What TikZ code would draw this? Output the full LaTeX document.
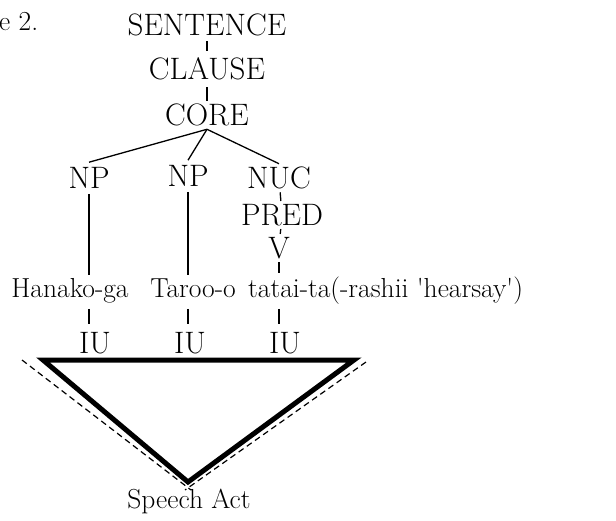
\documentclass[tikz,border=0pt]{standalone}
\usepackage{fontspec}
\setmainfont{Latin Modern Roman}[Ligatures=TeXOff]
\usepackage{tikz}
\begin{document}
\begin{tikzpicture}[
            x=1pt, y=-1pt,
            cat node/.style={inner xsep=2pt, inner ysep=3pt, font=\fontsize{31}{33}\selectfont},
            word node/.style={inner xsep=2pt, inner ysep=3pt, anchor=base, font=\fontsize{27.5}{30}\selectfont},
            branch/.style={line width=1.3pt},
            frame line/.style={line width=5pt, line join=miter},
            guide line/.style={line width=1.2pt, dash pattern=on 6pt off 4pt},
            ]
            \useasboundingbox (0,0) rectangle (616,520);

            % heading (cut off at the left edge)
            \node[word node, anchor=base west, inner sep=0pt] (ex) at (-1,30) {e 2.};

            % layered structure of the clause
            \node[cat node, inner ysep=5pt] (S) at (207,25) {SENTENCE};
            \node[cat node, inner ysep=7pt] (CL) at (207,69) {CLAUSE};
            \node[cat node] (CO) at (207,115) {CORE};
            \node[cat node, inner ysep=5pt] (NP1) at (89,178) {NP};
            \node[cat node, inner ysep=5pt] (NP2) at (188,176) {NP};
            \node[cat node] (NUC) at (279,178) {NUC};
            \node[cat node] (PRED) at (282,215) {PRED};
            \node[cat node] (V) at (279,248) {V};

            % words
            \node[word node] (W1) at (70,297) {Hanako-ga};
            \node[word node] (W2) at (193,297) {Taroo-o};
            \node[word node, anchor=base west] (W3) at (246,297) {tatai-ta(-rashii 'hearsay')};

            % intonation units
            \node[cat node, inner ysep=8pt] (IU1) at (95,343) {IU};
            \node[cat node, inner ysep=8pt] (IU2) at (190,343) {IU};
            \node[cat node, inner ysep=8pt] (IU3) at (285,343) {IU};

            \node[word node] (SA) at (189,508) {Speech Act};

            \coordinate (tl) at (43,360);
            \coordinate (tr) at (354,360);
            \coordinate (apex) at (188,482);
            \coordinate (gl1) at (22,360);
            \coordinate (gl2) at (191,490);
            \coordinate (gr1) at (366,362);
            \coordinate (gr2) at (185,490);

            \draw[branch] (S) -- (CL);
            \draw[branch] (CL) -- (CO);
            \draw[branch] (CO.south) -- (NP1.north);
            \draw[branch] (CO.south) -- (NP2.north);
            \draw[branch] (CO.south) -- (NUC.north);
            \draw[branch] (NUC) -- (PRED);
            \draw[branch] (PRED) -- (V);

            \draw[branch] (NP1) -- (NP1 |- W1.north);
            \draw[branch] (NP2) -- (NP2 |- W1.north);
            \draw[branch] (V) -- (V |- W3.north);

            \draw[branch] ([yshift=-3pt]NP1 |- W1.south) -- (NP1 |- IU1.north);
            \draw[branch] ([yshift=-3pt]NP2 |- W1.south) -- (NP2 |- IU2.north);
            \draw[branch] ([yshift=-3pt]NUC |- W1.south) -- (NUC |- IU3.north);

            \draw[frame line] (tl) -- (tr) -- (apex) -- cycle;
            \draw[guide line] (gl1) -- (gl2);
            \draw[guide line] (gr1) -- (gr2);
        \end{tikzpicture}
\end{document}
